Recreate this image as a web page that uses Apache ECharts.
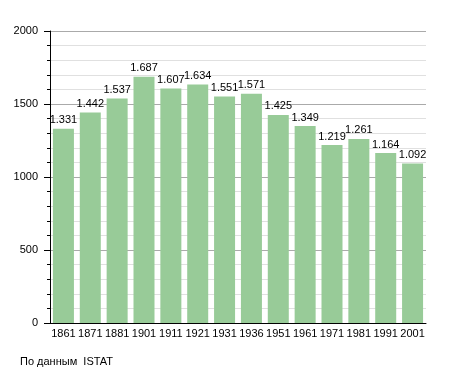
<!DOCTYPE html>
<html><head><meta charset="utf-8">
<script src="https://cdn.jsdelivr.net/npm/echarts@6/dist/echarts.min.js"></script>
<style>html,body{margin:0;padding:0;background:#fff}#c{width:455px;height:373px}</style>
</head><body><div id="c"></div>
<script>
const categories = ['1861','1871','1881','1901','1911','1921','1931','1936','1951','1961','1971','1981','1991','2001'];
const population = [1331,1442,1537,1687,1607,1634,1551,1571,1425,1349,1219,1261,1164,1092];
const yTicks = [0,500,1000,1500,2000];
const sourceText = 'По данным  ISTAT';

const chart = echarts.init(document.getElementById('c'), null, {renderer:'canvas'});
const font = 'Liberation Sans, Arial, sans-serif';
chart.setOption({
  animation:false,
  textStyle:{fontFamily:font},
  grid:{left:50,right:29,top:31,bottom:50,containLabel:false},
  graphic:[{type:'text',left:20,top:356,style:{text:sourceText,fontSize:11,fill:'#000',fontFamily:font}}],
  xAxis:{type:'category',data:categories,
    axisLine:{lineStyle:{color:'#000',width:1}},
    axisTick:{show:false},
    axisLabel:{color:'#000',fontSize:11,margin:5,fontFamily:font,interval:0}},
  yAxis:{type:'value',min:yTicks[0],max:yTicks[yTicks.length-1],interval:500,
    axisLine:{show:true,lineStyle:{color:'#000',width:1}},
    axisTick:{show:true,length:6,lineStyle:{color:'#000'}},
    minorTick:{show:true,splitNumber:5,length:3,lineStyle:{color:'#000'}},
    splitLine:{show:true,lineStyle:{color:'#aaaaaa',width:1}},
    minorSplitLine:{show:true,lineStyle:{color:'#e0e0e0',width:1}},
    axisLabel:{color:'#000',fontSize:11,margin:12,fontFamily:font,formatter:v=>String(v)}},
  series:[{type:'bar',data:population,barWidth:21,
    itemStyle:{color:'#98cb98'},
    label:{show:true,position:'top',distance:3,color:'#000',fontSize:11,fontFamily:font,
      formatter:p=>{const v=p.value;return Math.floor(v/1000)+'.'+String(v%1000).padStart(3,'0');}}}]
});
</script></body></html>
